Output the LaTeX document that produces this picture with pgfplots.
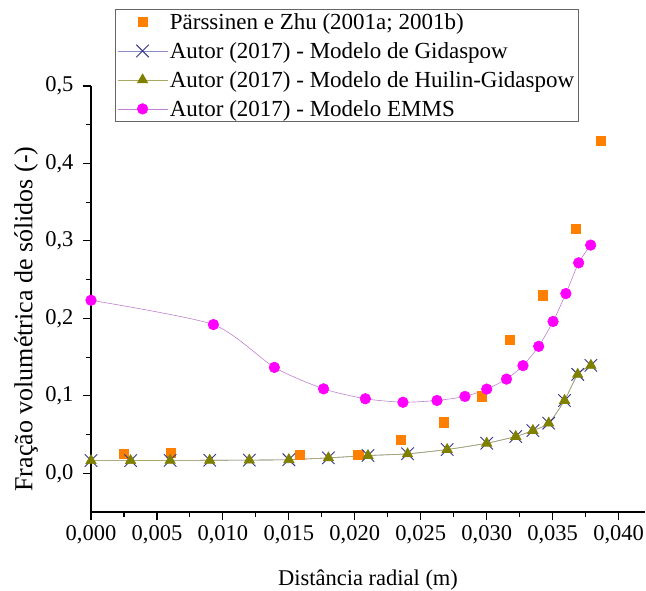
\documentclass[border=0pt]{standalone}
\usepackage{fontspec}
\setmainfont{Liberation Serif}
\usepackage{pgfplots}
\pgfplotsset{compat=1.18}
\definecolor{orng}{HTML}{FF8000}
\definecolor{mag}{HTML}{FF00FF}
\definecolor{olv}{HTML}{7F7F00}
\definecolor{navy}{HTML}{35358F}
\definecolor{gidline}{HTML}{8C8CC8}
\definecolor{huiline}{HTML}{A8A860}
\definecolor{emline}{HTML}{C080D0}
\begin{document}
\begin{tikzpicture}
\useasboundingbox (-91pt,-78pt) rectangle (555pt,512pt);
\begin{axis}[
  scale only axis, width=554pt, height=426pt,
  xmin=0, xmax=0.042, ymin=-0.05, ymax=0.5,
  axis x line*=bottom, axis y line*=left,
  axis line style={-, line width=1.2pt},
  xtick={0,0.005,0.01,0.015,0.02,0.025,0.03,0.035,0.04},
  ytick={0,0.1,0.2,0.3,0.4,0.5},
  minor x tick num=1, minor y tick num=1,
  tick align=outside, major tick length=8pt, minor tick length=4.5pt,
  tick style={black, line width=1.1pt},
  scaled x ticks=false, scaled y ticks=false,
  xticklabel style={/pgf/number format/fixed, /pgf/number format/fixed zerofill, /pgf/number format/precision=3, /pgf/number format/use comma, yshift=-2pt},
  yticklabel style={/pgf/number format/fixed, /pgf/number format/fixed zerofill, /pgf/number format/precision=1, /pgf/number format/use comma, xshift=-6pt},
  /pgf/number format/assume math mode=true,
  tick label style={font=\fontsize{22.5}{26}\selectfont, black},
  xlabel={Distância radial (m)},
  ylabel={Fração volumétrica de sólidos (-)},
  every axis x label/.style={at={(axis description cs:0.5,0)}, anchor=center, yshift=-68pt, font=\fontsize{22.5}{26}\selectfont},
  every axis y label/.style={at={(axis description cs:-0.117,0.453)}, rotate=90, anchor=center, font=\fontsize{26}{30}\selectfont},
  legend style={at={(axis description cs:0.0433,1.1808)}, anchor=north west,
    draw=gray!80!black, line width=0.6pt, font=\fontsize{23}{26}\selectfont,
    row sep=7.5pt, inner sep=2pt, cells={anchor=west}},
  legend cell align=left,
  legend image code/.code={\draw[#1, mark repeat=2, mark phase=2] plot coordinates {(3pt,0pt)(28pt,0pt)(53pt,0pt)};},
]
\addplot[only marks, mark=square*, mark size=4.6pt, color=orng]
  coordinates {(0.00245,0.025)(0.00607,0.0264)(0.01583,0.0238)(0.02026,0.0242)
  (0.02345,0.0432)(0.02676,0.066)(0.02964,0.0996)(0.03174,0.1726)(0.03424,0.2299)
  (0.03675,0.3162)(0.03867,0.4295)};
\addlegendentry{Pärssinen e Zhu (2001a; 2001b)}
\addplot[gidline, line width=0.6pt, smooth, tension=0.4, mark=x, mark size=8.8pt,
  mark options={navy, line width=0.9pt}]
  coordinates {(0,0.0164)(0.003,0.0164)(0.006,0.0166)(0.009,0.0168)(0.012,0.0170)
  (0.015,0.0175)(0.018,0.0199)(0.021,0.0229)(0.024,0.0252)(0.027,0.0307)(0.030,0.0388)
  (0.0322,0.0475)(0.0335,0.0552)(0.0347,0.0647)(0.0359,0.094)(0.0369,0.1277)(0.0379,0.1393)};
\addlegendentry{Autor (2017) - Modelo de Gidaspow}
\addplot[huiline, line width=0.6pt, smooth, tension=0.4, mark=triangle*, mark size=6pt,
  mark options={olv}]
  coordinates {(0,0.0164)(0.003,0.0164)(0.006,0.0166)(0.009,0.0168)(0.012,0.0170)
  (0.015,0.0175)(0.018,0.0199)(0.021,0.0229)(0.024,0.0250)(0.027,0.0307)(0.030,0.0388)
  (0.0322,0.0475)(0.0335,0.0552)(0.0347,0.0647)(0.0359,0.094)(0.0369,0.1277)(0.0379,0.1393)};
\addlegendentry{Autor (2017) - Modelo de Huilin-Gidaspow}
\addplot[emline, line width=0.6pt, smooth, tension=0.4, mark=*, mark size=5.3pt,
  mark options={mag, draw=mag}]
  coordinates {(0,0.2234)(0.00928,0.192)(0.0139,0.1367)(0.01763,0.109)(0.0208,0.0962)
  (0.02365,0.0917)(0.02623,0.094)(0.02835,0.0992)(0.0300,0.1087)(0.0315,0.1216)
  (0.03275,0.139)(0.03394,0.1639)(0.03503,0.196)(0.0360,0.232)(0.03697,0.2717)(0.03788,0.2946)};
\addlegendentry{Autor (2017) - Modelo EMMS}
\end{axis}
\end{tikzpicture}
\end{document}
